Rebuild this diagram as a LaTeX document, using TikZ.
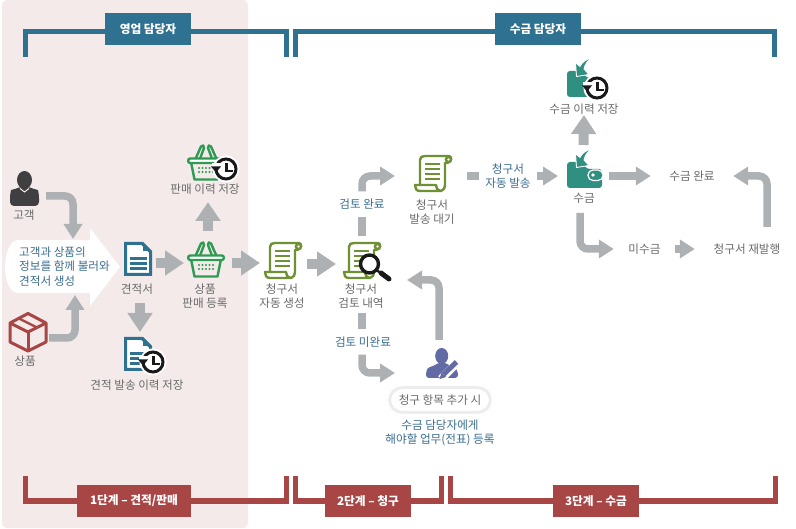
\documentclass[tikz,border=0pt]{standalone}
\usepackage{fontspec}
\setmainfont{Noto Sans CJK KR}
\usetikzlibrary{arrows.meta}
\definecolor{hblue}{HTML}{2F7191}
\definecolor{hred}{HTML}{A84545}
\definecolor{panel}{HTML}{F4EAEA}
\definecolor{agray}{HTML}{AEB1B3}
\definecolor{tblue}{HTML}{3B6E8F}
\definecolor{tgray}{HTML}{6A6A6A}
\definecolor{igreen}{HTML}{2E9A52}
\definecolor{iolive}{HTML}{6F9134}
\definecolor{iteal}{HTML}{2F8F80}
\definecolor{ipurple}{HTML}{626BA4}
\definecolor{idark}{HTML}{3F3F42}
\tikzset{
  spot/.style={inner sep=0,outer sep=0},
  lbl/.style={font=\fontsize{11.6}{14.5}\selectfont,text=tgray,align=center,inner sep=0},
  lblb/.style={lbl,text=tblue},
  band/.style={font=\fontsize{11.7}{14}\selectfont\bfseries,text=white,align=center,minimum height=32pt,inner sep=0},
  brk/.style={line width=5pt,line join=miter},
  fat/.style={agray,line width=10pt,-{Triangle[length=19pt,width=24pt]}},
  bent/.style={agray,line width=7.5pt,rounded corners=8pt,-{Triangle[length=15pt,width=18pt]}},
  stub/.style={agray,line width=7.5pt},
  scrollicon/.pic={
    \draw[iolive,line width=2.4pt,fill=white,line join=round]
      (6,30) -- (6,5) .. controls (6,2) and (8,1) .. (11,1) -- (35,1)
      .. controls (38,1) and (38.5,8) .. (31,8) -- (31,30)
      .. controls (31,33) and (30,35) .. (27,36) -- (6,36)
      .. controls (2,36) and (1,33) .. (1,30) -- (22,30)
      .. controls (22,33) and (23,35) .. (27,36);
    \draw[iolive,line width=2.4pt,fill=white] (34.5,4.5) circle (2.6);
    \foreach \yy in {9,14,19,24} \draw[iolive,line width=2pt] (11,\yy) -- (26,\yy);
  },
  basketicon/.pic={
    \draw[igreen,line width=2.4pt,line join=round]
      (8,16) -- (14,2.5) .. controls (15,0.5) and (18,1.5) .. (17,4) -- (12.5,16);
    \draw[igreen,line width=2.4pt,line join=round]
      (30,16) -- (24,2.5) .. controls (23,0.5) and (20,1.5) .. (21,4) -- (25.5,16);
    \draw[igreen,line width=2.4pt,line join=round] (4,18) -- (7.5,35.5) -- (30.5,35.5) -- (34,18);
    \draw[igreen,line width=2.4pt,rounded corners=2pt,fill=white] (1.2,14.5) rectangle (36.8,19);
    \foreach \xx in {12,15.5,19,22.5,26} {
      \fill[igreen] (\xx,24) circle (1.1);
      \fill[igreen] (\xx,28) circle (1.1);
    }
  },
  clockicon/.pic={
    \fill[white] (0,0) circle (13.5);
    \draw[black!90,line width=3pt] (0,0) circle (10);
    \fill[white] (-14,-6) rectangle (-6,0);
    \fill[black!90] (-15,-2.5) -- (-5,-2.5) -- (-10,3.5) -- cycle;
    \draw[black!90,line width=2.4pt,line join=miter] (0.5,-6) -- (0.5,2) -- (6.5,2);
  },
  docicon/.pic={
    \draw[hblue,line width=3pt,line join=miter,fill=white] (1.5,1.5) -- (18,1.5) -- (26.5,10) -- (26.5,32.5) -- (1.5,32.5) -- cycle;
    \fill[hblue] (19,0) -- (28,9) -- (19,9) -- cycle;
    \foreach \yy in {16.5,21.5,26.5} \draw[hblue,line width=2.8pt] (6,\yy) -- (22.5,\yy);
  },
  walleticon/.pic={
    \fill[iteal,rounded corners=3pt] (0,13) -- (14,13) -- (20,20) -- (35,20) -- (35,39) -- (0,39) -- cycle;
    \draw[white,line width=1.2pt,fill=iteal,rounded corners=5pt] (21,21) rectangle (36,31.5);
    \fill[white] (26,26) circle (1.8);
    \draw[white,line width=.9pt,fill=iteal,line join=round] (27,0) .. controls (21,1) and (18,6) .. (17,11) -- (22,16.5) -- (9.5,18.5) -- (8.5,4.5) -- (13,8.5) .. controls (15,4) and (20,0) .. (27,0) -- cycle;
  },
}
\begin{document}
\begin{tikzpicture}[x=1pt,y=-1pt]
\useasboundingbox (0,0) rectangle (796,529);
\fill[white] (0,0) rectangle (796,529);
\fill[panel,rounded corners=5pt] (2,0) rectangle (248,528);
% brackets
\draw[brk,hblue] (25.5,57) -- (25.5,31.5) -- (286.5,31.5) -- (286.5,57);
\draw[brk,hblue] (295.5,57) -- (295.5,31.5) -- (774.5,31.5) -- (774.5,57);
\draw[brk,hred] (25.5,476) -- (25.5,501) -- (286.5,501) -- (286.5,476);
\draw[brk,hred] (295.5,476) -- (295.5,501) -- (441.5,501) -- (441.5,476);
\draw[brk,hred] (450,476) -- (450,501) -- (775.5,501) -- (775.5,476);
\node[band,fill=hblue,minimum width=86pt] (sales) at (148,29) {영업 담당자};
\node[band,fill=hblue,minimum width=86pt] (collect) at (538,29) {수금 담당자};
\node[band,fill=hred,minimum width=114pt] (stepa) at (134,501) {1단계 – 견적/판매};
\node[band,fill=hred,minimum width=86pt] (stepb) at (368,501) {2단계 – 청구};
\node[band,fill=hred,minimum width=86pt] (stepc) at (596,501) {3단계 – 수금};
% banner
\fill[white,line join=round] (18,240) -- (90,240) -- (90,228) -- (120,267) -- (90,306) -- (90,293) -- (18,293) .. controls (9,293) and (5,278) .. (5,267) .. controls (5,256) and (9,240) .. (18,240) -- cycle;
% icons
\fill[idark] (24.5,180) ellipse (7.5 and 9);
\fill[idark,rounded corners=4pt] (10,206) -- (10,194) .. controls (11,190) and (15,189) .. (19,187) -- (30,187) .. controls (34,189) and (38,190) .. (39,194) -- (39,206) -- cycle;
\draw[panel,line width=1pt] (20,188.5) -- (24.5,192) -- (29,188.5);
\begin{scope}[hred,line width=3pt,line join=round]
\draw (28,313.5) -- (46,323) -- (46,342) -- (28,351) -- (10,342) -- (10,323) -- cycle;
\draw (10,323) -- (28,332) -- (46,323);
\draw (28,332) -- (28,351);
\draw[line width=2.4pt] (19,318.5) -- (37,327.5);
\end{scope}
\pic at (124,242) {docicon};
\pic at (124,337) {docicon};
\pic at (153,362) {clockicon};
\pic at (187,241) {basketicon};
\pic at (187,144) {basketicon};
\pic at (226,169) {clockicon};
\pic at (264,242) {scrollicon};
\pic at (343,242) {scrollicon};
\pic at (414,155) {scrollicon};
\fill[white] (369.5,264) circle (10);
\draw[black!90,line width=3.4pt] (369.5,264) circle (9);
\draw[black!90,line width=5pt,line cap=round] (381,273) -- (389,279);
\draw[black!90,line width=2.4pt] (376,270) -- (381,273);
\pic at (567,149) {walleticon};
\pic at (567,58) {walleticon};
\pic at (597,88) {clockicon};
\fill[ipurple] (441.7,356) ellipse (6.5 and 8);
\fill[ipurple,rounded corners=3pt] (426,378) -- (426,372) .. controls (428,367) and (434,366) .. (437,363) -- (447,363) .. controls (450,366) and (455,367) .. (458,372) -- (458,378) -- cycle;
\draw[white,line width=8pt] (441,379) -- (458,362);
\draw[ipurple,line width=5pt] (443.5,374.5) -- (456.5,362);
\fill[ipurple] (439.5,379) -- (441.5,372.5) -- (446,377) -- cycle;
% anchors of connectors (invisible)
\node[spot,minimum width=36pt,minimum height=50pt] (person) at (28,196) {};
\node[spot,minimum width=40pt,minimum height=40pt] (box) at (29,338) {};
\node[spot,minimum width=115pt,minimum height=56pt] (banner) at (62.5,267) {};
\node[spot,minimum width=32pt,minimum height=80pt] (doc) at (140,263) {};
\node[spot,minimum width=32pt,minimum height=40pt] (dochist) at (140,352) {};
\node[spot,minimum width=48pt,minimum height=64pt] (basket) at (208,263) {};
\node[spot,minimum width=40pt,minimum height=60pt] (baskethist) at (208,172) {};
\node[spot,minimum width=47pt,minimum height=50pt] (scrolla) at (283.5,264) {};
\node[spot,minimum width=52pt,minimum height=77pt] (review) at (362,274.5) {};
\node[spot,minimum width=72pt,minimum height=50pt] (waiting) at (431,176) {};
\node[spot,minimum width=88pt,minimum height=66pt] (writer) at (439,373) {};
\coordinate (reviewback) at (407,280);
\node[spot,minimum width=51pt,minimum height=62pt] (wallet) at (583.5,176) {};
\node[spot,minimum width=40pt,minimum height=60pt] (wallethist) at (584,85) {};
% labels that take part in connectors
\node[lblb,minimum height=25pt] (okd) at (362,204) {검토 완료};
\node[lblb,minimum height=25pt] (nok) at (363,342) {검토 미완료};
\node[lblb,minimum width=58pt,minimum height=30pt] (autosend) at (508,176) {청구서\\자동 발송};
\node[lbl,minimum width=82pt,minimum height=20pt] (paid) at (692,176) {수금 완료};
\node[lbl,minimum width=61pt,minimum height=20pt] (unpaid) at (644.5,249) {미수금};
\node[lbl,minimum width=104pt,minimum height=44pt] (reissue) at (747,249) {청구서 재발행};
% connectors
\draw[bent] (person.east) -| ([xshift=10.5pt]banner.north);
\draw[bent] (box.east) -| ([xshift=12.5pt]banner.south);
\draw[fat] (doc.east) -- (basket.west);
\draw[fat] (doc.south) -- (dochist.north);
\draw[fat] (basket.north) -- (baskethist.south);
\draw[fat] (basket.east) -- (basket.east -| scrolla.west);
\draw[fat] (scrolla.east) -- (scrolla.east -| review.west);
\draw[stub] (review.north) -- (review.north |- okd.south);
\draw[bent] (review.north |- okd.north) |- (waiting.west);
\draw[stub] (review.south) -- (review.south |- nok.north);
\draw[bent] (review.south |- nok.south) |- (writer.west);
\draw[bent] (writer.north) |- (reviewback);
\draw[stub] (waiting.east) -- (autosend.west);
\draw[bent] (autosend.east) -- (wallet.west);
\draw[fat] (wallet.north) -- (wallethist.south);
\draw[bent] (wallet.east) -- (paid.west);
\draw[bent] ([xshift=-3.5pt,yshift=-6pt]wallet.south) |- (unpaid.west);
\draw[bent] (unpaid.east) -- (reissue.west);
\draw[bent] ([xshift=20pt]reissue.north) |- (paid.east);
% texts
\node[lbl] (tcust) at (24,215) {고객};
\node[lbl] (tprod) at (25,361) {상품};
\node[lblb,anchor=west,align=left] (tbanner) at (19,266.5) {고객과 상품의\\정보를 함께 불러와\\견적서 생성};
\node[lbl] (tdoc) at (137,289) {견적서};
\node[lbl] (tdochist) at (137,385) {견적 발송 이력 저장};
\node[lbl] (tbasket) at (205,296) {상품\\판매 등록};
\node[lbl] (tbhist) at (205,189) {판매 이력 저장};
\node[lbl] (tscra) at (282,296) {청구서\\자동 생성};
\node[lbl] (tscrb) at (361,296) {청구서\\검토 내역};
\node[lbl] (tscrc) at (432,212) {청구서\\발송 대기};
\node[lbl] (twal) at (584,198) {수금};
\node[lbl] (twhist) at (584,109) {수금 이력 저장};
\node[lbl,draw=black!7,line width=3pt,fill=white,rounded corners=13pt,minimum width=101pt,minimum height=25pt] (pill) at (440,400) {청구 항목 추가 시};
\node[lblb] (tpost) at (440,433) {수금 담당자에게\\해야할 업무(전표) 등록};
\end{tikzpicture}
\end{document}
